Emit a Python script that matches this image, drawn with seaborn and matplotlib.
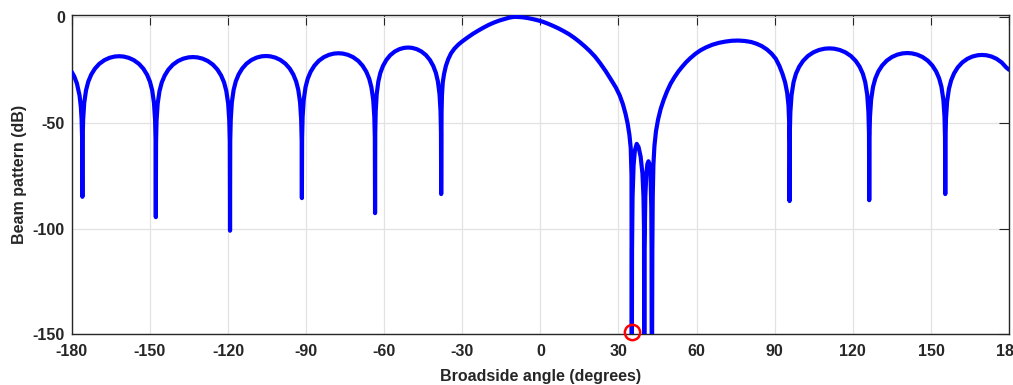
import matplotlib
matplotlib.use("Agg")
import matplotlib.pyplot as plt
import pandas as pd
import seaborn as sns

# ---- Beam pattern samples (angle in degrees, level in dB) ----
# Sidelobes on the left, from -180 deg to the first null of the main beam
left_angles = [
    -180.0, -179.0, -178.0, -177.0, -176.5, -176.2, -176.0, -175.9,
    -175.82, -175.62, -175.20, -174.49, -173.64, -172.52, -171.11, -169.41,
    -167.44, -165.47, -163.49, -161.80, -160.11, -158.13, -156.16, -154.19,
    -152.49, -151.08, -149.96, -149.11, -148.41, -147.98, -147.79, -147.70,
    -147.61, -147.42, -146.99, -146.28, -145.42, -144.28, -142.86, -141.15,
    -139.15, -137.16, -135.16, -133.45, -131.74, -129.75, -127.75, -125.76,
    -124.05, -122.62, -121.48, -120.63, -119.91, -119.49, -119.29, -119.20,
    -119.12, -118.92, -118.51, -117.82, -116.99, -115.89, -114.51, -112.85,
    -110.92, -108.99, -107.06, -105.40, -103.74, -101.81, -99.88, -97.95,
    -96.29, -94.91, -93.81, -92.98, -92.29, -91.88, -91.68, -91.60,
    -91.52, -91.32, -90.90, -90.20, -89.35, -88.23, -86.82, -85.14,
    -83.17, -81.20, -79.24, -77.55, -75.86, -73.90, -71.93, -69.96,
    -68.28, -66.87, -65.75, -64.91, -64.20, -63.78, -63.58, -63.50,
    -63.42, -63.25, -62.87, -62.23, -61.47, -60.45, -59.18, -57.66,
    -55.88, -54.10, -52.32, -50.80, -49.28, -47.50, -45.72, -43.94,
    -42.42, -41.15, -40.13, -39.37, -38.74, -38.35, -38.18, -38.10,
]
left_db = [
    -26.0, -28.2, -31.5, -37.1, -42.5, -48.4, -57.8, -85.0,
    -58.6, -48.6, -40.6, -34.6, -30.6, -27.3, -24.5, -22.2,
    -20.45, -19.35, -18.75, -18.6, -18.75, -19.35, -20.45, -22.2,
    -24.5, -27.3, -30.6, -34.6, -40.6, -48.6, -58.6, -94.6,
    -59.0, -49.0, -41.0, -35.0, -31.0, -27.7, -24.9, -22.6,
    -20.85, -19.75, -19.15, -19.0, -19.15, -19.75, -20.85, -22.6,
    -24.9, -27.7, -31.0, -35.0, -41.0, -49.0, -59.0, -101.0,
    -58.5, -48.5, -40.5, -34.5, -30.5, -27.2, -24.4, -22.1,
    -20.35, -19.25, -18.65, -18.5, -18.65, -19.25, -20.35, -22.1,
    -24.4, -27.2, -30.5, -34.5, -40.5, -48.5, -58.5, -85.6,
    -57.2, -47.2, -39.2, -33.2, -29.2, -25.9, -23.1, -20.8,
    -19.05, -17.95, -17.35, -17.2, -17.35, -17.95, -19.05, -20.8,
    -23.1, -25.9, -29.2, -33.2, -39.2, -47.2, -57.2, -92.7,
    -54.5, -44.5, -36.5, -30.5, -26.5, -23.2, -20.4, -18.1,
    -16.35, -15.25, -14.65, -14.5, -14.65, -15.25, -16.35, -18.1,
    -20.4, -23.2, -26.5, -30.5, -36.5, -44.5, -54.5, -83.7,
]

# Main beam
main_angles = [
    -37.95, -37.8, -37.5, -37.0, -36.3, -35.4, -34.3, -33.0, -31.5, -30.0,
    -28.0, -26.0, -24.0, -22.0, -20.0, -18.0, -16.0, -14.0, -12.0, -10.5,
    -9.5, -7.0, -5.0, -3.0, -1.0, 1.0, 3.0, 5.0, 7.0, 9.0,
    11.0, 13.0, 15.0, 17.0, 19.0, 21.0, 23.0, 25.0, 27.0, 29.0,
    30.5, 31.7, 32.7, 33.5, 34.2, 34.7, 35.0,
]
main_db = [
    -45.0, -37.0, -31.0, -27.0, -23.2, -20.0, -17.2, -15.0, -13.1, -11.6,
    -9.8, -8.1, -6.6, -5.2, -3.9, -2.8, -1.85, -1.1, -0.4, -0.08,
    0.0, -0.2, -0.55, -1.05, -1.65, -2.35, -3.3, -4.35, -5.5, -6.8,
    -8.2, -9.9, -11.8, -13.9, -16.2, -18.8, -22.0, -25.5, -29.4, -33.4,
    -37.2, -41.3, -45.8, -50.3, -55.8, -62.0, -75.0,
]

# Deep nulls near 35-43 deg with two small lobes between them
null_angles = [
    35.1, 35.2, 35.4, 35.8, 36.3, 37.0, 37.7, 38.5, 39.2, 39.6, 39.8,
    39.9, 40.0, 40.3, 40.7, 41.1, 41.5, 41.9, 42.3, 42.6, 42.7, 42.8,
]
null_db = [
    -200.0, -110.0, -85.0, -70.0, -63.0, -60.0, -61.5, -66.0, -74.0, -85.0, -100.0,
    -200.0, -110.0, -85.0, -74.0, -69.5, -68.2, -69.5, -75.0, -90.0, -110.0, -200.0,
]

# Sidelobes on the right, up to +180 deg
right_angles = [
    43.0, 43.15, 43.4, 43.8, 44.4, 45.2, 46.2, 47.3, 48.6, 50.0,
    51.5, 53.0, 54.5, 56.0, 57.6, 59.5, 61.5, 63.5, 66.0, 68.5,
    71.0, 73.5, 76.0, 78.5, 81.0, 83.0, 85.0, 87.0, 88.8, 90.4,
    91.8, 93.0, 94.0, 94.8, 95.3, 95.55, 95.68, 95.70,
    95.79, 96.01, 96.47, 97.23, 98.15, 99.37, 100.90, 102.74,
    104.88, 107.02, 109.16, 111.00, 112.84, 114.98, 117.12, 119.26,
    121.10, 122.63, 123.85, 124.77, 125.54, 125.99, 126.21, 126.30,
    126.39, 126.59, 127.03, 127.76, 128.64, 129.80, 131.26, 133.02,
    135.06, 137.10, 139.15, 140.90, 142.65, 144.70, 146.74, 148.78,
    150.54, 152.00, 153.16, 154.04, 154.77, 155.21, 155.41, 155.50,
    155.59, 155.78, 156.21, 156.91, 157.76, 158.88, 160.29, 161.99,
    163.96, 165.93, 167.91, 169.60, 171.29, 173.27, 175.24, 177.21,
    178.91, 180.0,
]
right_db = [
    -110.0, -85.0, -70.0, -61.0, -54.0, -48.5, -43.5, -39.4, -35.3, -31.6,
    -28.5, -25.8, -23.5, -21.4, -19.5, -17.5, -15.8, -14.5, -13.2, -12.3,
    -11.7, -11.3, -11.2, -11.4, -11.9, -12.7, -13.8, -15.4, -17.4, -19.8,
    -23.2, -27.0, -31.0, -36.0, -42.0, -50.0, -60.0, -87.0,
    -54.9, -44.9, -36.9, -30.9, -26.9, -23.6, -20.8, -18.5,
    -16.75, -15.65, -15.05, -14.9, -15.05, -15.65, -16.75, -18.5,
    -20.8, -23.6, -26.9, -30.9, -36.9, -44.9, -54.9, -86.6,
    -57.1, -47.1, -39.1, -33.1, -29.1, -25.8, -23.0, -20.7,
    -18.95, -17.85, -17.25, -17.1, -17.25, -17.85, -18.95, -20.7,
    -23.0, -25.8, -29.1, -33.1, -39.1, -47.1, -57.1, -83.7,
    -58.0, -48.0, -40.0, -34.0, -30.0, -26.7, -23.9, -21.6,
    -19.85, -18.75, -18.15, -18.0, -18.15, -18.75, -19.85, -21.6,
    -23.9, -25.0,
]

# Marked null direction
marker_angle = [35.1]
marker_db = [-149.0]

x_ticks = [-180, -150, -120, -90, -60, -30, 0, 30, 60, 90, 120, 150, 180]
y_ticks = [-150, -100, -50, 0]

pattern = pd.DataFrame({
    "angle": left_angles + main_angles + null_angles + right_angles,
    "db": left_db + main_db + null_db + right_db,
})

sns.set_theme(style="white")
plt.rcParams["font.family"] = ["Liberation Sans", "DejaVu Sans"]
plt.rcParams["font.weight"] = "bold"
plt.rcParams["axes.unicode_minus"] = False

ink = "#262626"
fig = plt.figure(figsize=(10.13, 3.85), dpi=100)
ax = fig.add_axes([0.0708, 0.1312, 0.9253, 0.8306])

sns.lineplot(data=pattern, x="angle", y="db", ax=ax, color="#0000ff",
             linewidth=3, sort=False, estimator=None, zorder=3)
ax.plot(marker_angle, marker_db, linestyle="none", marker="o",
        markerfacecolor="none", markeredgecolor="#ff0000", markersize=11,
        markeredgewidth=1.8, clip_on=False, zorder=5)

ax.set_xlim(-180, 180)
ax.set_ylim(-150, 1)
ax.set_xticks(x_ticks)
ax.set_yticks(y_ticks)
ax.grid(True, color="#e2e2e2", linewidth=0.9)
ax.set_axisbelow(True)

for side in ["left", "right", "top", "bottom"]:
    ax.spines[side].set_visible(True)
    ax.spines[side].set_color(ink)
    ax.spines[side].set_linewidth(1.0)

ax.tick_params(axis="both", direction="in", length=7, width=0.8,
               top=True, right=True, color=ink, labelcolor=ink,
               labelsize=11.5)
ax.tick_params(axis="x", pad=7)
ax.tick_params(axis="y", pad=5)
for lbl in ax.get_xticklabels() + ax.get_yticklabels():
    lbl.set_fontweight("bold")

ax.set_xlabel("Broadside angle (degrees)", fontsize=11.5, fontweight="bold",
              color=ink, labelpad=7)
ax.set_ylabel("Beam pattern (dB)", fontsize=11.5, fontweight="bold",
              color=ink, labelpad=4)

fig.savefig("out.png", dpi=100)
